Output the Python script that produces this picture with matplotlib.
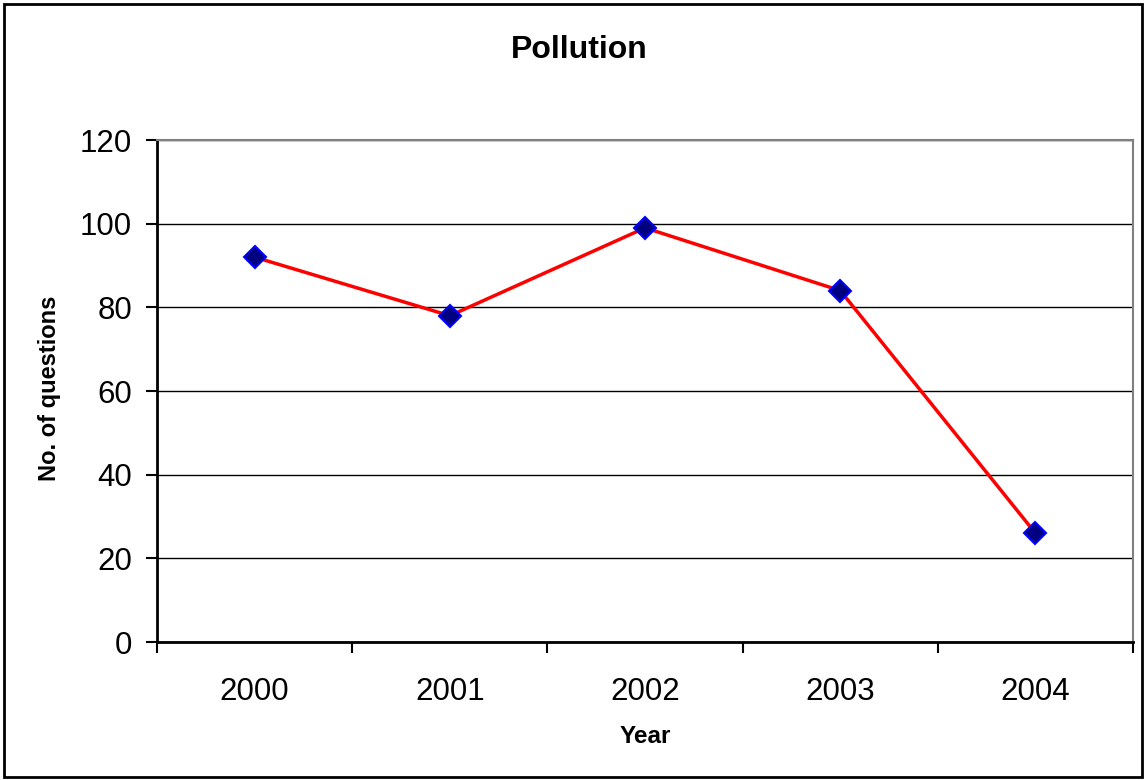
import matplotlib.pyplot as plt
from matplotlib.patches import Rectangle

plt.rcParams['font.family'] = ['Liberation Sans', 'DejaVu Sans']

# data
years = ['2000', '2001', '2002', '2003', '2004']
questions = [92, 78, 99, 84, 26]

fig = plt.figure(figsize=(11.48, 7.8), dpi=100)
ax = fig.add_axes([0.1368, 0.1769, 0.8502, 0.6436])

x = list(range(len(years)))
ax.plot(x, questions, color='#FF0000', linewidth=2.5, zorder=3)
ax.plot(x, questions, linestyle='none', marker='D', markersize=11,
        markerfacecolor='#000080', markeredgecolor='#0000FF',
        markeredgewidth=1.5, zorder=4)

ax.set_xlim(-0.5, len(years) - 0.5)
ax.set_ylim(0, 120)
ax.set_yticks(range(0, 121, 20))
ax.yaxis.grid(True, color='black', linewidth=1)
ax.set_axisbelow(True)

# category ticks between groups, labels in the middle
ax.set_xticks([i - 0.5 for i in range(len(years) + 1)])
ax.set_xticklabels([])
ax.set_xticks(x, minor=True)
ax.set_xticklabels(years, minor=True)
ax.tick_params(axis='x', which='major', direction='out', length=8, width=1.5)
ax.tick_params(axis='x', which='minor', length=0, pad=25, labelsize=22.5)
ax.tick_params(axis='y', direction='out', length=8, width=1.5, pad=10, labelsize=22.5)

for s in ['left', 'bottom']:
    ax.spines[s].set_linewidth(2)
    ax.spines[s].set_color('black')
for s in ['top', 'right']:
    ax.spines[s].set_linewidth(1.5)
    ax.spines[s].set_color('#808080')

fig.text(0.5045, 0.936, 'Pollution', ha='center', va='center',
         fontsize=23, fontweight='bold')
fig.text(0.5625, 0.056, 'Year', ha='center', va='center',
         fontsize=17.5, fontweight='bold')
fig.text(0.0435, 0.502, 'No. of questions', ha='center', va='center',
         rotation=90, fontsize=17, fontweight='bold')

fig.patches.append(Rectangle((0.0035, 0.004), 0.9915, 0.991, transform=fig.transFigure,
                             fill=False, edgecolor='black', linewidth=2))

fig.savefig('out.png', dpi=100)
